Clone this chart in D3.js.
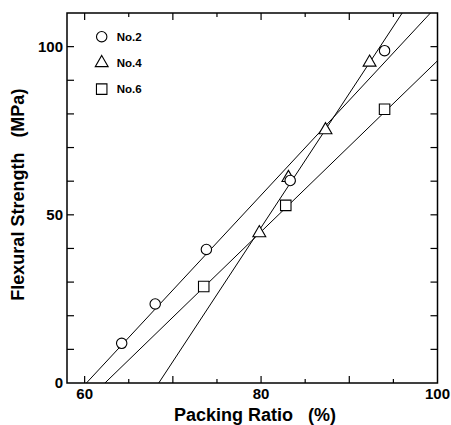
<!DOCTYPE html>
<html>
<head>
<meta charset="utf-8">
<script src="https://cdn.jsdelivr.net/npm/d3@7"></script>
<style>
  body { margin: 0; background: #fff; }
  text { font-family: "Liberation Sans", Arial, Helvetica, sans-serif; font-weight: bold; fill: #000; }
  .axis-title { white-space: pre; }
</style>
</head>
<body>
<div class="chart"></div>
<script>
// data
const series = ["No.2", "No.4", "No.6"];
const symbols = ["circle", "triangle", "square"];

const no2Ratio = [64.2, 68.0, 73.8, 83.3, 94.0];
const no2Strength = [11.8, 23.5, 39.7, 60.2, 98.8];

const no4Ratio = [79.8, 83.1, 87.3, 92.3];
const no4Strength = [44.6, 61.0, 75.2, 95.3];

const no6Ratio = [73.5, 82.8, 94.0];
const no6Strength = [28.7, 52.8, 81.4];

// fitted lines, two end points each [ratio, strength]
const no2Fit = [[60.2, 0], [99.2, 110]];
const no4Fit = [[68.4, 0], [96.0, 110]];
const no6Fit = [[62.3, 0], [100, 95.8]];

const xTicks = [60, 65, 70, 75, 80, 85, 90, 95];
const xLabels = [60, 80, 100];
const yTicks = [10, 20, 30, 40, 50, 60, 70, 80, 90, 100];
const yLabels = [0, 50, 100];

const margin = ({top: 13, right: 13.5, bottom: 42, left: 67});
const width = 451 - margin.left - margin.right,
    height = 425 - margin.top - margin.bottom;

const svg = d3.select(".chart")
    .append("svg")
    .attr("width", 451)
    .attr("height", 425)
    .append("g")
    .attr("transform", "translate(" + margin.left + "," + margin.top + ")");

// scales
const xScale = d3.scaleLinear()
    .domain([58, 100])
    .range([0, width]);

const yScale = d3.scaleLinear()
    .domain([0, 110])
    .range([height, 0]);

svg.append("clipPath")
    .attr("id", "plot-clip")
    .append("rect")
    .attr("width", width)
    .attr("height", height);

// ticks pointing inward on all four sides
const xLong = d => d % 10 === 0 ? 7 : 4;

svg.append("g")
    .attr("transform", "translate(0," + height + ")")
    .selectAll("line")
    .data(xTicks)
    .join("line")
    .attr("x1", d => xScale(d)).attr("x2", d => xScale(d))
    .attr("y1", 0).attr("y2", d => -xLong(d))
    .attr("stroke", "#000").attr("stroke-width", 1.2);

svg.append("g")
    .selectAll("line")
    .data(xTicks)
    .join("line")
    .attr("x1", d => xScale(d)).attr("x2", d => xScale(d))
    .attr("y1", 0).attr("y2", d => xLong(d))
    .attr("stroke", "#000").attr("stroke-width", 1.2);

svg.append("g")
    .selectAll("line")
    .data(yTicks)
    .join("line")
    .attr("x1", 0).attr("x2", 7)
    .attr("y1", d => yScale(d)).attr("y2", d => yScale(d))
    .attr("stroke", "#000").attr("stroke-width", 1.2);

svg.append("g")
    .selectAll("line")
    .data(yTicks)
    .join("line")
    .attr("x1", width).attr("x2", width - 7)
    .attr("y1", d => yScale(d)).attr("y2", d => yScale(d))
    .attr("stroke", "#000").attr("stroke-width", 1.2);

// frame
svg.append("rect")
    .attr("width", width)
    .attr("height", height)
    .attr("fill", "none")
    .attr("stroke", "#000")
    .attr("stroke-width", 1.5);

// tick labels
svg.append("g")
    .selectAll("text")
    .data(xLabels)
    .join("text")
    .attr("x", d => xScale(d))
    .attr("y", height + 16)
    .attr("text-anchor", "middle")
    .style("font-size", "15px")
    .text(d => d);

svg.append("g")
    .selectAll("text")
    .data(yLabels)
    .join("text")
    .attr("x", -4)
    .attr("y", d => yScale(d) + 5)
    .attr("text-anchor", "end")
    .style("font-size", "15px")
    .text(d => d);

// axis titles
svg.append("text")
    .attr("class", "axis-title")
    .attr("x", xScale(79.3))
    .attr("y", height + 37.5)
    .attr("text-anchor", "middle")
    .style("font-size", "18px")
    .text("Packing Ratio   (%)");

svg.append("text")
    .attr("class", "axis-title")
    .attr("transform", "translate(" + (-43) + "," + yScale(56) + ") rotate(-90)")
    .attr("text-anchor", "middle")
    .style("font-size", "18px")
    .text("Flexural Strength   (MPa)");

// fit lines
const line = d3.line()
    .x(d => xScale(d[0]))
    .y(d => yScale(d[1]));

svg.append("g")
    .attr("clip-path", "url(#plot-clip)")
    .selectAll("path")
    .data([no2Fit, no4Fit, no6Fit])
    .join("path")
    .attr("d", line)
    .attr("fill", "none")
    .attr("stroke", "#000")
    .attr("stroke-width", 1);

// markers
const symbolType = {
    circle: d3.symbolCircle,
    triangle: d3.symbolTriangle,
    square: d3.symbolSquare
};
const symbolSize = {circle: 85, triangle: 72, square: 110};

function drawPoints(xs, ys, sym) {
    svg.append("g")
        .selectAll("path")
        .data(xs.map((x, i) => [x, ys[i]]))
        .join("path")
        .attr("transform", d => "translate(" + xScale(d[0]) + "," + yScale(d[1]) + ")")
        .attr("d", d3.symbol().type(symbolType[sym]).size(symbolSize[sym]))
        .attr("fill", "#fff")
        .attr("stroke", "#000")
        .attr("stroke-width", 1.1);
}

drawPoints(no4Ratio, no4Strength, "triangle");
drawPoints(no6Ratio, no6Strength, "square");
drawPoints(no2Ratio, no2Strength, "circle");

// legend
const legend = svg.append("g")
    .attr("transform", "translate(" + (101.7 - margin.left) + "," + (36.7 - margin.top) + ")");

const legendItem = legend.selectAll("g")
    .data(series)
    .join("g")
    .attr("transform", (d, i) => "translate(0," + (i * 26.2) + ")");

legendItem.append("path")
    .attr("d", (d, i) => d3.symbol().type(symbolType[symbols[i]]).size(symbolSize[symbols[i]])())
    .attr("fill", "#fff")
    .attr("stroke", "#000")
    .attr("stroke-width", 1.1);

legendItem.append("text")
    .attr("x", 15)
    .attr("y", 4)
    .style("font-size", "11.5px")
    .text(d => d);
</script>
</body>
</html>
